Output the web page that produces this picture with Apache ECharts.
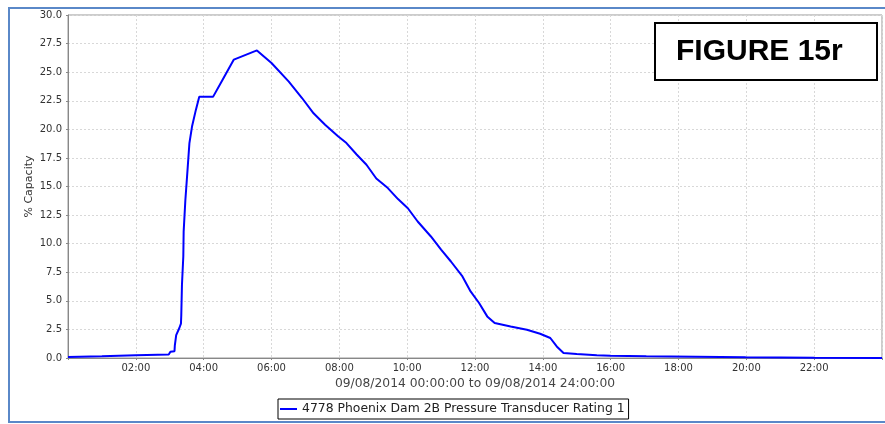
<!DOCTYPE html>
<html>
<head>
<meta charset="utf-8">
<script src="https://cdn.jsdelivr.net/npm/echarts@6/dist/echarts.min.js"></script>
<style>
    html, body { margin: 0; padding: 0; background: #fff; }
    #chart { width: 885px; height: 424px; }
</style>
</head>
<body>
<div id="chart"></div>
<script>
var SERIES_NAME = '4778 Phoenix Dam 2B Pressure Transducer Rating 1';
var X_TITLE = '09/08/2014 00:00:00 to 09/08/2014 24:00:00';
var Y_TITLE = '% Capacity';
var FIGURE_LABEL = 'FIGURE 15r';

// hours since midnight
var hours = [
    0, 1, 2, 2.97, 3.02, 3.14, 3.15, 3.19, 3.28, 3.33, 3.34, 3.36, 3.40, 3.41,
    3.46, 3.53, 3.58, 3.66, 3.77, 3.87, 4.28, 4.55, 4.89, 5.57, 6.0, 6.51,
    6.90, 7.24, 7.58, 7.97, 8.21, 8.51, 8.80, 9.09, 9.43, 9.73, 10.02, 10.31,
    10.70, 11.00, 11.29, 11.63, 11.87, 12.12, 12.36, 12.58, 13.05, 13.53,
    13.92, 14.22, 14.41, 14.61, 15.00, 15.59, 16.0, 17.05, 18.51, 19.98, 22.0, 24.0
];
// % capacity
var capacity = [
    0.08, 0.15, 0.23, 0.3, 0.55, 0.6, 1.1, 2.0, 2.6, 3.0, 3.75, 6.4, 8.9, 11.05,
    13.8, 16.7, 18.8, 20.3, 21.7, 22.86, 22.86, 24.3, 26.1, 26.9, 25.8, 24.17,
    22.74, 21.4, 20.4, 19.37, 18.8, 17.8, 16.9, 15.7, 14.86, 13.9, 13.1, 11.94,
    10.63, 9.47, 8.44, 7.13, 5.82, 4.81, 3.64, 3.06, 2.76, 2.47,
    2.12, 1.75, 1.01, 0.44, 0.35, 0.23, 0.2, 0.15, 0.12, 0.07, 0.03, 0.0
];

var xTicks = ['', '02:00', '04:00', '06:00', '08:00', '10:00', '12:00',
    '14:00', '16:00', '18:00', '20:00', '22:00', ''];

var points = [];
for (var i = 0; i < hours.length; i++) {
    points.push([hours[i], capacity[i]]);
}

var chart = echarts.init(document.getElementById('chart'));
chart.setOption({
    backgroundColor: '#fff',
    animation: false,
    textStyle: { fontFamily: 'DejaVu Sans' },
    grid: {
        left: 68, right: -3, top: 15, bottom: 66,
        show: true, borderColor: '#999', borderWidth: 1
    },
    legend: {
        data: [SERIES_NAME],
        left: 278, top: 399,
        padding: [4, 4, 4, 2],
        borderColor: '#000', borderWidth: 1,
        itemWidth: 17, itemHeight: 2, icon: 'rect',
        textStyle: { fontSize: 12.4, color: '#222', fontFamily: 'DejaVu Sans' }
    },
    xAxis: {
        type: 'value',
        min: 0, max: 24, interval: 2,
        name: X_TITLE,
        nameLocation: 'middle',
        nameGap: 20,
        nameTextStyle: { fontSize: 12.3, color: '#444' },
        axisLine: { lineStyle: { color: '#888' } },
        axisTick: { show: true, length: 2, lineStyle: { color: '#888' } },
        axisLabel: {
            fontSize: 10, color: '#333', margin: 5,
            formatter: function (v) { return xTicks[Math.round(v / 2)]; }
        },
        splitLine: { lineStyle: { color: '#d8d8d8', type: [2, 2] } }
    },
    yAxis: {
        type: 'value',
        min: 0, max: 30, interval: 2.5,
        name: Y_TITLE,
        nameLocation: 'middle',
        nameGap: 33,
        nameMoveOverlap: false,
        nameTextStyle: { fontSize: 11, color: '#333' },
        axisLine: { show: true, lineStyle: { color: '#888' } },
        axisTick: { show: true, length: 2, lineStyle: { color: '#888' } },
        axisLabel: {
            fontSize: 10, color: '#333', margin: 6,
            formatter: function (v) { return v.toFixed(1); }
        },
        splitLine: { lineStyle: { color: '#d8d8d8', type: [2, 2] } }
    },
    series: [{
        name: SERIES_NAME,
        type: 'line',
        data: points,
        showSymbol: false,
        color: '#0000ff',
        lineStyle: { width: 2, color: '#0000ff' }
    }],
    graphic: [
        {
            type: 'rect',
            shape: { x: 9, y: 8, width: 900, height: 414 },
            style: { fill: 'none', stroke: '#5a88c8', lineWidth: 2 },
            silent: true
        },
        {
            type: 'rect',
            shape: { x: 655, y: 23, width: 222, height: 57 },
            style: { fill: '#fff', stroke: '#000', lineWidth: 2 },
            z: 100
        },
        {
            type: 'text',
            left: 676, top: 37,
            style: {
                text: FIGURE_LABEL,
                fontFamily: 'Liberation Sans',
                fontWeight: 'bold',
                fontSize: 30,
                fill: '#000'
            },
            z: 101
        }
    ]
});
</script>
</body>
</html>
